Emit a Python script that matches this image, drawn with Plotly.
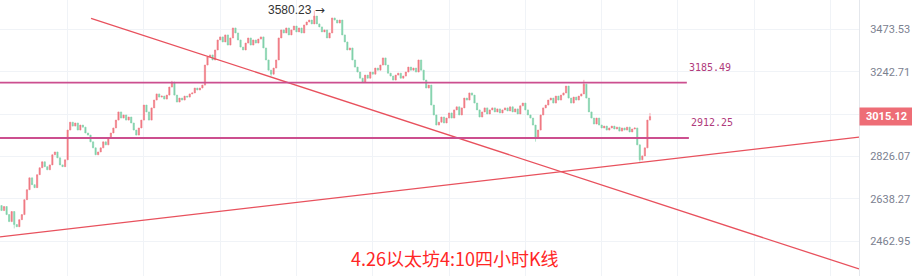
import math
import plotly.graph_objects as go

# ---- data (4h ETH candles) ----
CLOSES = [
    2589, 2606, 2572, 2543, 2585, 2531, 2522, 2551, 2572, 2635,
    2678, 2730, 2700, 2687, 2744, 2775, 2802, 2780, 2766, 2788,
    2834, 2847, 2820, 2788, 2780, 2811, 2950, 2988, 2969, 2984,
    2950, 2974, 2964, 2936, 2926, 2894, 2866, 2834, 2847, 2866,
    2894, 2880, 2912, 2936, 2960, 2998, 3038, 3008, 3023, 2998,
    3013, 2984, 2950, 2926, 2960, 2998, 3072, 3038, 2998, 3058,
    3097, 3128, 3112, 3117, 3102, 3122, 3163, 3189, 3122, 3087,
    3107, 3097, 3117, 3112, 3128, 3133, 3158, 3148, 3158, 3173,
    3278, 3321, 3332, 3305, 3359, 3414, 3431, 3403, 3442, 3386,
    3425, 3481, 3453, 3414, 3375, 3359, 3397, 3425, 3386, 3414,
    3397, 3419, 3431, 3370, 3305, 3251, 3230, 3262, 3305, 3425,
    3470, 3453, 3481, 3442, 3470, 3492, 3459, 3481, 3453, 3498,
    3515, 3526, 3504, 3549, 3504, 3487, 3459, 3470, 3425, 3453,
    3538, 3526, 3509, 3526, 3442, 3403, 3359, 3370, 3305, 3267,
    3241, 3209, 3189, 3225, 3209, 3241, 3230, 3262, 3251, 3278,
    3316, 3278, 3235, 3220, 3199, 3225, 3235, 3209, 3220, 3241,
    3267, 3251, 3262, 3241, 3305, 3251, 3199, 3158, 3173, 3072,
    3023, 2974, 2988, 3013, 2984, 3008, 3033, 3008, 3048, 3063,
    3023, 3058, 3107, 3097, 3133, 3122, 3082, 3048, 3013, 3038,
    3058, 3028, 3048, 3058, 3038, 3053, 3033, 3048, 3058, 3043,
    3063, 3038, 3053, 3028, 3068, 3082, 3048, 3023, 3008, 2974,
    2912, 2950, 3023, 3058, 3072, 3097, 3107, 3082, 3117, 3097,
    3122, 3133, 3168, 3107, 3082, 3112, 3097, 3117, 3128, 3178,
    3107, 3038, 3008, 2979, 3008, 2974, 2960, 2969, 2950, 2960,
    2969, 2955, 2964, 2945, 2960, 2950, 2964, 2941, 2955, 2960,
    2880, 2811, 2829, 2866, 2998, 3015.12,
]
FIRST_OPEN = 2610
HIGH_WICKS = {67: 3195, 123: 3580.23, 229: 3200, 255: 3033}
LOW_WICKS = {5: 2515, 106: 3220, 210: 2895, 251: 2802}

LEVELS = [3185.49, 2912.25]
LEVEL_END = [269.5, 270.3]          # candle index where each level line ends
DOWN_LINE = ([35.2, 337.2], [3536, 2355])
UP_LINE = ([-0.6, 337.2], [2481, 2916])
Y_TICKS = [3473.53, 3242.71, 3027.22, 2826.07, 2638.27, 2462.95]
Y_TICK_TEXT = ["3473.53", "3242.71", "", "2826.07", "2638.27", "2462.95"]  # 3027 label sits under the price tag
X_GRID = list(range(26, 337, 30))
LAST_PRICE = 3015.12
PEAK_PRICE = 3580.23
PEAK_INDEX = 123
TITLE = "4.26以太坊4:10四小时K线"

# ---- build ----
idx = list(range(len(CLOSES)))
opens = [FIRST_OPEN] + CLOSES[:-1]
highs = [HIGH_WICKS.get(i, max(o, c)) for i, o, c in zip(idx, opens, CLOSES)]
lows = [LOW_WICKS.get(i, min(o, c)) for i, o, c in zip(idx, opens, CLOSES)]

RED = "#f07a84"
GREEN = "#82d1ab"
fig = go.Figure()
fig.add_trace(go.Candlestick(
    x=idx, open=opens, high=highs, low=lows, close=CLOSES,
    increasing=dict(line=dict(color=RED, width=0.6), fillcolor=RED),
    decreasing=dict(line=dict(color=GREEN, width=0.6), fillcolor=GREEN),
    whiskerwidth=0, showlegend=False, hoverinfo="skip",
))
for xs, ys in (DOWN_LINE, UP_LINE):
    fig.add_trace(go.Scatter(x=xs, y=ys, mode="lines",
                             line=dict(color="#e8515d", width=1.3),
                             showlegend=False, hoverinfo="skip"))
for lvl, xe in zip(LEVELS, LEVEL_END):
    fig.add_trace(go.Scatter(x=[-0.6, xe], y=[lvl, lvl], mode="lines",
                             line=dict(color="#cc4f8f", width=1.8),
                             showlegend=False, hoverinfo="skip"))
    fig.add_annotation(x=xe, y=math.log10(lvl), text=f"{lvl:.2f}", showarrow=False,
                       xanchor="left", yanchor="bottom", yshift=8, xshift=0,
                       font=dict(family="DejaVu Sans Mono", size=10, color="#b03a7c"))

fig.add_annotation(x=PEAK_INDEX, y=math.log10(PEAK_PRICE),
                   text=f"{PEAK_PRICE:.2f} <span style='font-family:DejaVu Sans'>→</span>",
                   showarrow=False, xanchor="right", yanchor="middle", xshift=13, yshift=1,
                   font=dict(family="Liberation Sans", size=12, color="#333333"))
fig.add_annotation(xref="paper", yref="y", x=1, y=math.log10(LAST_PRICE),
                   text=f"<b>{LAST_PRICE:.2f}</b>", showarrow=False,
                   xanchor="left", yanchor="middle", bgcolor="#ee6d76",
                   width=49, height=13, borderpad=2,
                   font=dict(family="Roboto", size=11, color="white"))
fig.add_annotation(xref="paper", yref="paper", x=0.53, y=0.065, text=TITLE,
                   showarrow=False, xanchor="center", yanchor="middle",
                   font=dict(family="Noto Sans CJK SC", size=18, color="#ff2626"))

fig.update_layout(
    width=912, height=276, margin=dict(l=0, r=53, t=0, b=0),
    paper_bgcolor="white", plot_bgcolor="white",
    xaxis=dict(range=[-0.6, 337.2], tickvals=X_GRID, showticklabels=False,
               showgrid=True, gridcolor="#f0f3f7", zeroline=False,
               rangeslider=dict(visible=False), fixedrange=True),
    yaxis=dict(type="log", side="right", tickvals=Y_TICKS, ticktext=Y_TICK_TEXT,
               range=[3.36704, 3.56141], showgrid=True, gridcolor="#f0f3f7",
               showline=True, linecolor="#e4e7ec", zeroline=False,
               ticks="", ticklabelstandoff=8,
               tickfont=dict(family="Roboto", size=11, color="#7b8190")),
)
fig.write_html("out.html", config={"displayModeBar": False})
